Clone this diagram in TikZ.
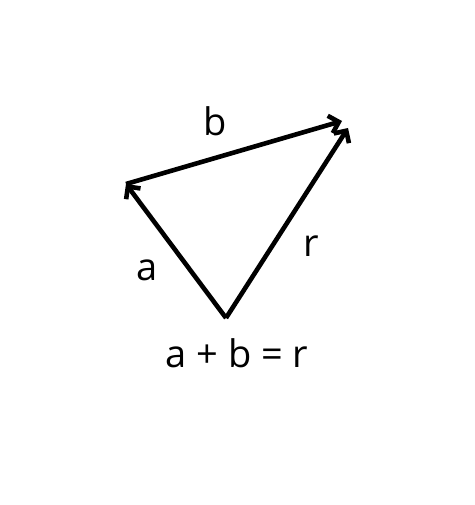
\documentclass[tikz,border=0pt]{standalone}
\usepackage{fontspec}
\setmainfont{Open Sans}
\usetikzlibrary{arrows.meta}
\begin{document}
\begin{tikzpicture}[x=1pt,y=-1pt,
  vec/.style={line width=4.6pt,-{Straight Barb[length=9pt,width=18pt]}},
  lbl/.style={font=\fontsize{38}{42}\selectfont,inner sep=0pt}]
\useasboundingbox (0,0) rectangle (474,505);
\fill[white] (0,0) rectangle (474,505);
\coordinate (O) at (226,318);
\coordinate (A) at (126,184);
\coordinate (B) at (342,121);
\coordinate (R) at (348,128);
\draw[vec] (O) -- (A);
\draw[vec] (A) -- (B);
\draw[vec] (O) -- (R);
\node[lbl] (lb) at (215,121) {b};
\node[lbl] (la) at (147,270) {a};
\node[lbl] (lr) at (311,246) {r};
\node[lbl] (eq) at (237,353) {a + b = r};
\end{tikzpicture}
\end{document}
